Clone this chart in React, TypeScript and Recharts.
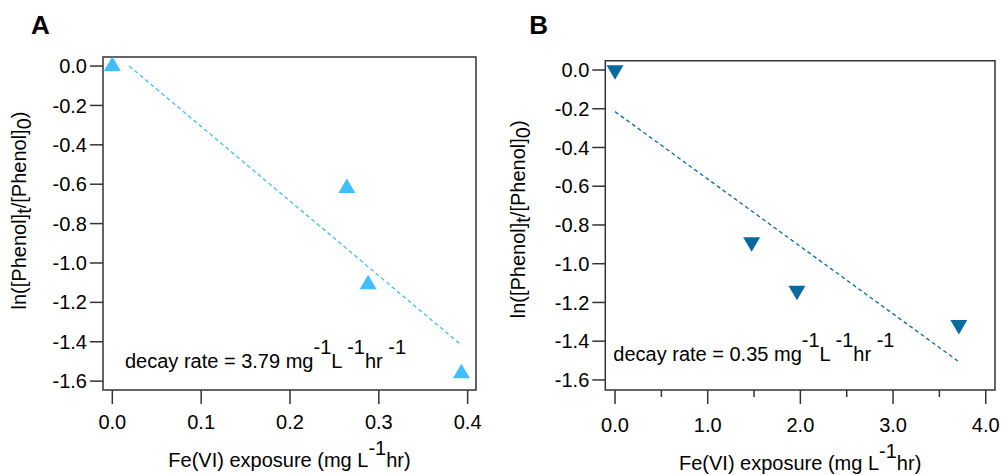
import React from "react";
import {
  ScatterChart,
  Scatter,
  XAxis,
  YAxis,
  ReferenceArea,
  Label,
} from "recharts";

// ---------- data ----------
const expA = [0, 0.264, 0.288, 0.393];
const lnA = [0, -0.62, -1.109, -1.561];
const fitExpA = [0.019, 0.3915];
const fitLnA = [0, -1.411];

const expB = [0, 1.474, 1.963, 3.71];
const lnB = [0, -0.889, -1.139, -1.315];
const fitExpB = [0, 3.71];
const fitLnB = [-0.215, -1.506];

const yTicks = [0, -0.2, -0.4, -0.6, -0.8, -1.0, -1.2, -1.4, -1.6];
const xTicksA = [0, 0.1, 0.2, 0.3, 0.4];
const xTicksB = [0, 0.5, 1, 1.5, 2, 2.5, 3, 3.5, 4];

const rateA = "3.79";
const rateB = "0.35";

const toPts = (xs: number[], ys: number[]) => xs.map((x, i) => ({ x, y: ys[i] }));

const FONT = "'Liberation Sans', Arial, Helvetica, sans-serif";
const AXIS = "#333";
const TICK_FS = 20;
const TITLE_FS = 20;

const TriUp = (color: string) => (p: any) => {
  const { cx, cy } = p;
  const s = 17;
  const h = 14.5;
  return (
    <polygon
      points={`${cx},${cy - (2 * h) / 3} ${cx - s / 2},${cy + h / 3} ${cx + s / 2},${cy + h / 3}`}
      fill={color}
    />
  );
};
const TriDown = (color: string) => (p: any) => {
  const { cx, cy } = p;
  const s = 17;
  const h = 14.5;
  return (
    <polygon
      points={`${cx},${cy + (2 * h) / 3} ${cx - s / 2},${cy - h / 3} ${cx + s / 2},${cy - h / 3}`}
      fill={color}
    />
  );
};

const NoShape = () => <g />;

type PanelCfg = {
  letter: string;
  left: number;
  width: number;
  marginTop: number;
  marginRight: number;
  yAxisWidth: number;
  xDomain: [number, number];
  yDomain: [number, number];
  xTicks: number[];
  minorEvery: boolean;
  pts: { x: number; y: number }[];
  fit: { x: number; y: number }[];
  color: string;
  down: boolean;
  rate: string;
  rateDx: number;
  rateDy: number;
  xTitleDy: number;
  xTickMargin: number;
  yTitleDx: number;
  yTitleDy: number;
  letterDx: number;
  letterDy: number;
};

const Panel = ({ c }: { c: PanelCfg }) => {
  const XTick = (p: any) => {
    const { x, y, payload } = p;
    const v = payload.value as number;
    const major = !c.minorEvery || Math.abs(v - Math.round(v)) < 1e-9;
    const axisY = y - 14 - c.xTickMargin;
    return (
      <g>
        <line x1={x} x2={x} y1={axisY} y2={axisY + (major ? 14 : 7)} stroke={AXIS} strokeWidth={1.5} />
        {major && (
          <text x={x} y={axisY + 14 + c.xTickMargin + 14} textAnchor="middle" fontSize={TICK_FS} fontFamily={FONT} fill="#000">
            {v.toFixed(1)}
          </text>
        )}
      </g>
    );
  };

  const XTitle = (p: any) => {
    const vb = p.viewBox;
    return (
      <text x={vb.x + vb.width / 2} y={vb.y + c.xTitleDy} textAnchor="middle" fontSize={TITLE_FS} fontFamily={FONT} fill="#000">
        Fe(VI) exposure (mg L
        <tspan dy={-12}>-1</tspan>
        <tspan dy={12}>hr)</tspan>
      </text>
    );
  };

  const Decay = (p: any) => {
    const vb = p.viewBox;
    return (
      <text x={vb.x + c.rateDx} y={vb.y + c.rateDy} fontSize={TITLE_FS} fontFamily={FONT} fill="#000">
        decay rate = {c.rate} mg
        <tspan dy={-14}>-1</tspan>
        <tspan dy={14}>L </tspan>
        <tspan dy={-14}>-1</tspan>
        <tspan dy={14}>hr </tspan>
        <tspan dy={-14}>-1</tspan>
      </text>
    );
  };

  const YTitle = (p: any) => {
    const vb = p.viewBox;
    const px = vb.x + vb.width + c.yTitleDx;
    const py = vb.y + vb.height / 2 + c.yTitleDy;
    return (
      <text
        x={px}
        y={py}
        transform={`rotate(-90 ${px} ${py})`}
        textAnchor="middle"
        fontSize={TITLE_FS}
        fontFamily={FONT}
        fill="#000"
      >
        ln([Phenol]
        <tspan dy={5}>t</tspan>
        <tspan dy={-5}>/[Phenol]</tspan>
        <tspan dy={5}>0</tspan>
        <tspan dy={-5}>)</tspan>
      </text>
    );
  };

  const Letter = (p: any) => {
    const vb = p.viewBox;
    return (
      <text x={vb.x + vb.width + c.letterDx} y={vb.y + c.letterDy} fontSize={26} fontWeight="bold" fontFamily={FONT} fill="#000">
        {c.letter}
      </text>
    );
  };

  return (
    <div style={{ position: "absolute", left: c.left, top: 0 }}>
      <ScatterChart
        width={c.width}
        height={475}
        margin={{ top: c.marginTop, right: c.marginRight, left: 0, bottom: 0 }}
      >
        <XAxis
          type="number"
          dataKey="x"
          domain={c.xDomain}
          ticks={c.xTicks}
          allowDataOverflow
          interval={0}
          height={85}
          axisLine={false}
          tickLine={false}
          tickSize={14}
          tickMargin={c.xTickMargin}
          tick={XTick}
        >
          <Label content={XTitle} />
          <Label content={Decay} />
        </XAxis>
        <YAxis
          type="number"
          dataKey="y"
          domain={c.yDomain}
          ticks={yTicks}
          allowDataOverflow
          interval={0}
          width={c.yAxisWidth}
          axisLine={false}
          tickLine={{ stroke: AXIS, strokeWidth: 1.5 }}
          tickSize={13}
          tickMargin={3}
          tickFormatter={(v: number) => v.toFixed(1)}
          tick={{ fontSize: TICK_FS, fontFamily: FONT, fill: "#000" }}
        >
          <Label content={YTitle} />
          <Label content={Letter} />
        </YAxis>
        <ReferenceArea
          x1={c.xDomain[0]}
          x2={c.xDomain[1]}
          y1={c.yDomain[0]}
          y2={c.yDomain[1]}
          fill="none"
          fillOpacity={0}
          stroke={AXIS}
          strokeWidth={1.5}
          ifOverflow="visible"
        />
        <Scatter
          data={c.fit}
          line={{ stroke: c.color, strokeWidth: 1.3, strokeDasharray: "4 3" }}
          shape={NoShape}
          isAnimationActive={false}
        />
        <Scatter
          data={c.pts}
          shape={c.down ? TriDown(c.color) : TriUp(c.color)}
          isAnimationActive={false}
        />
      </ScatterChart>
    </div>
  );
};

const panelA: PanelCfg = {
  letter: "A",
  left: 0,
  width: 500,
  marginTop: 57,
  marginRight: 24,
  yAxisWidth: 103,
  xDomain: [-0.0105, 0.4094],
  yDomain: [-1.645, 0.046],
  xTicks: xTicksA,
  minorEvery: false,
  pts: toPts(expA, lnA),
  fit: toPts(fitExpA, fitLnA),
  color: "#3FBFFF",
  down: false,
  rate: rateA,
  rateDx: 22,
  rateDy: -22,
  xTitleDy: 77,
  xTickMargin: 11,
  yTitleDx: -77,
  yTitleDy: -13,
  letterDx: -72,
  letterDy: -23,
};

const panelB: PanelCfg = {
  letter: "B",
  left: 500,
  width: 502,
  marginTop: 60.7,
  marginRight: 7,
  yAxisWidth: 105.3,
  xDomain: [-0.105, 4.1],
  yDomain: [-1.652, 0.048],
  xTicks: xTicksB,
  minorEvery: true,
  pts: toPts(expB, lnB),
  fit: toPts(fitExpB, fitLnB),
  color: "#0A6A9E",
  down: true,
  rate: rateB,
  rateDx: 8,
  rateDy: -29,
  xTitleDy: 80,
  xTickMargin: 14,
  yTitleDx: -80,
  yTitleDy: -6,
  letterDx: -76,
  letterDy: -27,
};

export default function App() {
  return (
    <div style={{ position: "absolute", left: 0, top: 0, width: 1002, height: 475, background: "#fff" }}>
      <Panel c={panelA} />
      <Panel c={panelB} />
    </div>
  );
}
